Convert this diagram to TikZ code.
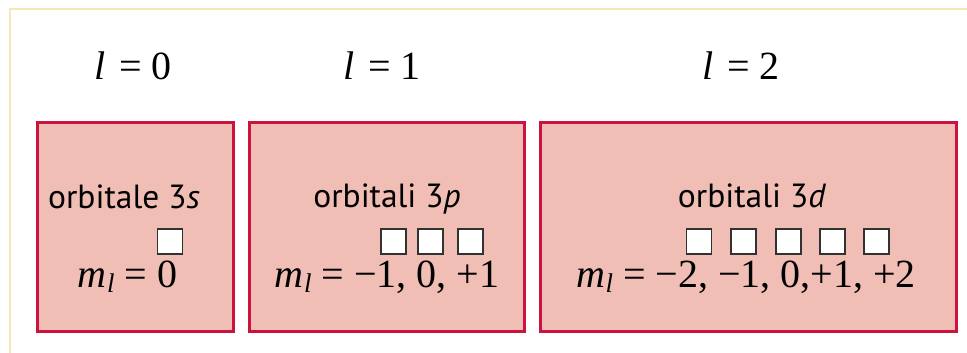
\documentclass[tikz,border=0pt]{standalone}
\usepackage{fontspec}
\setmainfont{Liberation Serif}
\newfontfamily\labelfont{PT Sans}
\definecolor{boxfill}{RGB}{240,190,180}
\definecolor{boxline}{RGB}{204,18,62}
\definecolor{frameline}{RGB}{246,230,185}
\definecolor{cellline}{RGB}{50,50,50}
\newcommand\mlsym{{\itshape m}\kern0.5pt\raisebox{-0.3ex}{\fontsize{27}{27}\selectfont\itshape l}}
\begin{document}
\begin{tikzpicture}[x=1pt,y=-1pt,
  orbbox/.style={draw=boxline, fill=boxfill, line width=3.5pt, inner sep=0pt},
  cell/.style={draw=cellline, fill=white, line width=1.3pt, minimum size=25pt, inner sep=0pt},
  mathtxt/.style={anchor=base, inner sep=0pt, font=\fontsize{40}{44}\selectfont},
  sanstxt/.style={anchor=base, inner sep=0pt, font=\labelfont\fontsize{33.5}{38}\selectfont}]
\useasboundingbox (0,0) rectangle (967,353);
\draw[frameline, line width=2.5pt] (10,353) -- (10,9) -- (967,9);

\node[mathtxt] (l0) at (133,80) {\itshape l\upshape\kern4pt\ = 0};
\node[mathtxt] (l1) at (382,80) {\itshape l\upshape\kern4pt\ = 1};
\node[mathtxt] (l2) at (741,80) {\itshape l\upshape\kern4pt\ = 2};

\node[orbbox, minimum width=196, minimum height=209] (b1) at (135.5,227) {};
\node[orbbox, minimum width=275, minimum height=209] (b2) at (387,227) {};
\node[orbbox, minimum width=416, minimum height=209] (b3) at (748.5,227) {};

\node[sanstxt] (t1) at (124,208) {orbitale 3\textit{s}};
\node[sanstxt] (t2) at (387,207) {orbitali 3\textit{p}};
\node[sanstxt] (t3) at (752,207) {orbitali 3\textit{d}};

\node[cell] (c1) at (170,241.5) {};
\node[cell] (p1) at (393.5,241.5) {};
\node[cell] (p2) at (430.5,241.5) {};
\node[cell] (p3) at (470.5,241.5) {};
\node[cell] (d1) at (699,241.5) {};
\node[cell] (d2) at (743.5,241.5) {};
\node[cell] (d3) at (788.5,241.5) {};
\node[cell] (d4) at (832.5,241.5) {};
\node[cell] (d5) at (876.5,241.5) {};

\node[mathtxt] (m1) at (127.5,287) {\mlsym\ = 0};
\node[mathtxt] (m2) at (387,287) {\mlsym\ = −1, 0, +1};
\node[mathtxt] (m3) at (746,287) {\mlsym\ = −2, −1, 0,+1, +2};
\end{tikzpicture}
\end{document}
